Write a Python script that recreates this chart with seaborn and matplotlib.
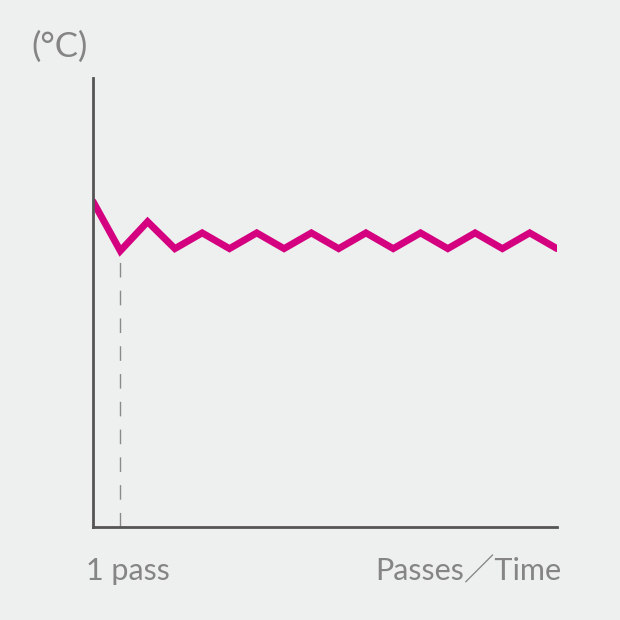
import matplotlib
matplotlib.use("Agg")
import matplotlib.pyplot as plt
import seaborn as sns
import pandas as pd

passes = list(range(18))
temperature = [72.5, 61.5, 68.0, 62.0, 65.5, 62.0, 65.5, 62.0, 65.5, 62.0,
               65.5, 62.0, 65.5, 62.0, 65.5, 62.0, 65.5, 62.0]
y_label = "(°C)"
x_first_label = "1 pass"
x_label = "Passes／Time"

sns.set_theme(style="white")
plt.rcParams['font.family'] = ['Lato', 'Noto Sans CJK JP', 'DejaVu Sans']

bg = "#eeefef"
fig = plt.figure(figsize=(6.2, 6.2), dpi=100, facecolor=bg)
ax = fig.add_axes([93/620, 1-527/620, (557-93)/620, (527-78)/620])
ax.set_facecolor(bg)

df = pd.DataFrame({"pass": passes, "temp": temperature})
sns.lineplot(data=df, x="pass", y="temp", ax=ax, color="#d4007f",
             linewidth=5.0, solid_joinstyle="miter")

ax.plot([passes[1], passes[1]], [0, temperature[1]], color="#8a8a8a",
        linewidth=1.0, dashes=(10.5, 9.5), zorder=1)

ax.set_xlim(0, 17)
ax.set_ylim(0, 100)
ax.set_xticks([])
ax.set_yticks([])
ax.set_xlabel("")
ax.set_ylabel("")
for s in ["top", "right"]:
    ax.spines[s].set_visible(False)
for s in ["left", "bottom"]:
    ax.spines[s].set_color("#555555")
    ax.spines[s].set_linewidth(2.0)

txt_color = "#858585"
fig.text(31/620, 1-47/620, y_label, color=txt_color, fontsize=25,
         ha="left", va="center")
fig.text(86/620, 1-571/620, x_first_label, color=txt_color, fontsize=22,
         ha="left", va="center")
fig.text(561/620, 1-571/620, x_label, color=txt_color, fontsize=22,
         ha="right", va="center")

fig.savefig("out.png", dpi=100, facecolor=bg)
